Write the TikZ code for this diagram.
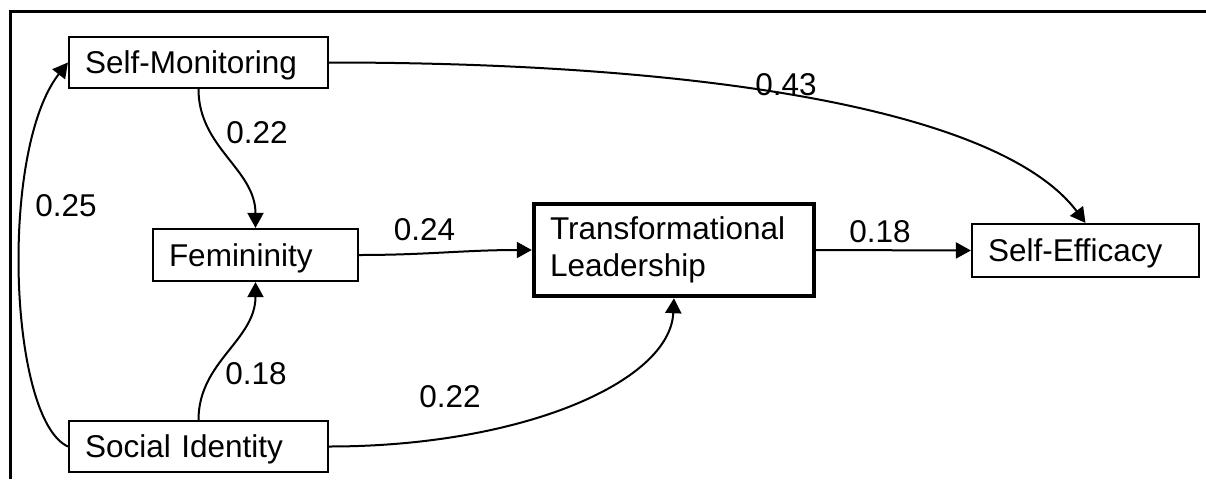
\documentclass[tikz,border=0pt]{standalone}
\usepackage{fontspec}
\setmainfont{Liberation Sans}
\usetikzlibrary{arrows.meta}

\begin{document}
\begin{tikzpicture}[x=0.5pt, y=0.5pt,
  font=\fontsize{15.75}{18.5}\selectfont,
  var/.style={draw, line width=1.1pt, text width=#1, inner xsep=8pt,
    align=left, text height=12.6pt, text depth=1.6pt},
  coef/.style={inner sep=0pt},
  link/.style={line width=1pt, -{Triangle[length=7.5pt, width=8pt]}}]

\useasboundingbox ( 0, 0 ) rectangle ( 1206, 479 );

% Frame
\draw [line width=1.2pt] ( 10.5, 0 ) -- ( 10.5, 467.5 ) -- ( 1206, 467.5 );

% Variables
\node (sm) at ( 198.5, 416.5 ) [var=113.5pt, minimum height=25.5pt] {Self-Monitoring};
\node (fem) at ( 255.5, 224 ) [var=86.5pt, minimum height=26pt] {Femininity};
\node (tl) at ( 674, 229 ) [var=124pt, minimum height=46pt, line width=2.2pt,
  text height={}, text depth={}] {Transformational\\Leadership};
\node (se) at ( 1085.5, 228.5 ) [var=97.5pt, minimum height=26.5pt] {Self-Efficacy};
\node (si) at ( 198.5, 32.5 ) [var=113.5pt, minimum height=25.5pt] {Social Identity};

% Paths
\draw [link] (sm.south) to [out=-90, in=90] (fem.north);
\draw [link] (si.north) to [out=90, in=-90] (fem.south);
\draw [link] (si.west) .. controls +( -59, 27 ) and +( -69, -88 ) .. (sm.west);
\draw [link] (si.east) .. controls +( 192, 0 ) and +( -4, -84 ) .. (tl.south);
\draw [link] (fem.east) to [out=0, in=180] (tl.west);
\draw [link] (tl.east) -- (se.west);
\draw [link] (sm.east) .. controls +( 372, 0 ) and +( -86, 114 ) .. (se.north);

% Coefficients
\node (c1) at ( 786, 394 ) [coef] {0.43};
\node (c2) at ( 257, 346 ) [coef] {0.22};
\node (c3) at ( 66, 273 ) [coef] {0.25};
\node (c4) at ( 424.5, 249 ) [coef] {0.24};
\node (c5) at ( 880, 247 ) [coef] {0.18};
\node (c6) at ( 256, 105 ) [coef] {0.18};
\node (c7) at ( 450, 82 ) [coef] {0.22};

\end{tikzpicture}
\end{document}
